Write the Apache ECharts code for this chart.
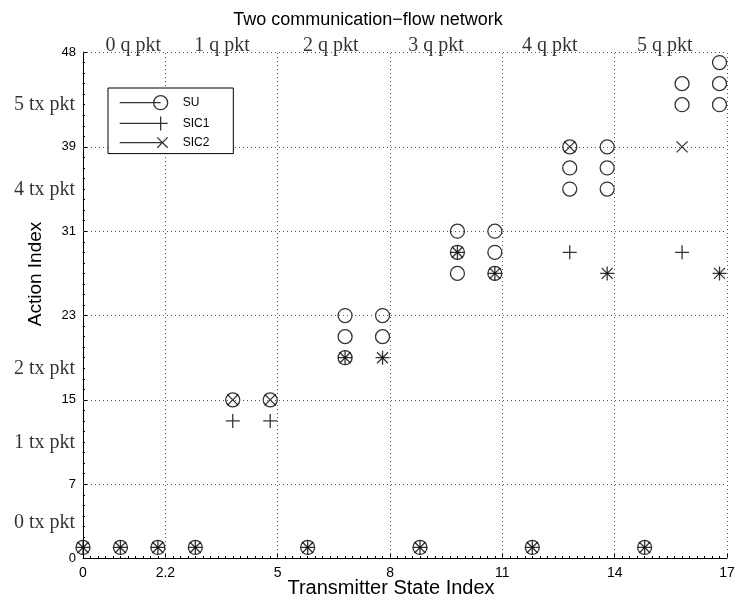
<!DOCTYPE html>
<html>
<head>
<meta charset="utf-8">
<script src="https://cdn.jsdelivr.net/npm/echarts@6/dist/echarts.min.js"></script>
<style>
html,body{margin:0;padding:0;background:#fff;}
#chart{width:736px;height:601px;}
</style>
</head>
<body>
<div id="chart"></div>
<script>
// ---- data ----
const xTickValues = [0, 2.2, 5.2, 8.2, 11.2, 14.2, 17.2];
const xTickLabels = ['0', '2.2', '5', '8', '11', '14', '17'];
const yTickValues = [0, 7, 15, 23, 31, 39, 48];
const xGridValues = [2.2, 5.2, 8.2, 11.2, 14.2, 17.2];
const yGridValues = [7, 15, 23, 31, 39, 48];

const suPoints = [
  [0, 1], [1, 1], [2, 1], [3, 1], [4, 15], [5, 15], [6, 1],
  [7, 23], [7, 21], [7, 19], [8, 23], [8, 21], [9, 1],
  [10, 31], [10, 29], [10, 27], [11, 31], [11, 29], [11, 27], [12, 1],
  [13, 39], [13, 37], [13, 35], [14, 39], [14, 37], [14, 35], [15, 1],
  [16, 45], [16, 43], [17, 47], [17, 45], [17, 43]
];
const sic1Points = [
  [0, 1], [1, 1], [2, 1], [3, 1], [4, 13], [5, 13], [6, 1],
  [7, 19], [8, 19], [9, 1], [10, 29], [11, 27], [12, 1],
  [13, 29], [14, 27], [15, 1], [16, 29], [17, 27]
];
const sic2Points = [
  [0, 1], [1, 1], [2, 1], [3, 1], [4, 15], [5, 15], [6, 1],
  [7, 19], [8, 19], [9, 1], [10, 29], [11, 27], [12, 1],
  [13, 39], [14, 27], [15, 1], [16, 39], [17, 27]
];

const qLabels = ['0 q pkt', '1 q pkt', '2 q pkt', '3 q pkt', '4 q pkt', '5 q pkt'];
const qLabelX = [1.34, 3.71, 6.62, 9.43, 12.47, 15.54];
const qLabelY = 48.6;
const txLabels = ['0 tx pkt', '1 tx pkt', '2 tx pkt', '4 tx pkt', '5 tx pkt'];
const txLabelY = [3.3, 10.9, 18, 34.9, 43];

// ---- chart ----
const SANS = 'Liberation Sans, Arial, Helvetica, sans-serif';
const SERIF = 'Liberation Serif, Times New Roman, serif';
const chart = echarts.init(document.getElementById('chart'), null, {renderer: 'canvas'});

function xLabelFor(v) {
  let best = 0;
  for (let i = 1; i < xTickValues.length; i++) {
    if (Math.abs(xTickValues[i] - v) < Math.abs(xTickValues[best] - v)) best = i;
  }
  return xTickLabels[best];
}

const plusPath = 'path://M-7,0L7,0M0,-7L0,7';
const crossPath = 'path://M-5,-5L5,5M-5,5L5,-5';
const legendSU = 'path://M0,7L41,7M48,7A7,7,0,1,1,34,7A7,7,0,1,1,48,7';
const legendPlus = 'path://M0,7L48,7M41,0L41,14';
const legendCross = 'path://M0,7L41,7M36,2L46,12M36,12L46,2';

const markerStyle = {color: 'rgba(0,0,0,0)', borderColor: '#000', borderWidth: 1.3};

const option = {
  animation: false,
  backgroundColor: '#fff',
  title: {
    text: 'Two communication\u2212flow network',
    left: 'center', top: 6,
    textStyle: {fontFamily: SANS, fontSize: 18, fontWeight: 'normal', color: '#000'}
  },
  grid: {left: 83, right: 9, top: 52, bottom: 43, containLabel: false, outerBoundsMode: 'none'},
  legend: {
    orient: 'vertical', left: 108, top: 88,
    padding: [7, 24, 5, 11], itemGap: 5.5, itemWidth: 48, itemHeight: 14,
    backgroundColor: '#fff', borderColor: '#000', borderWidth: 1, borderRadius: 0,
    selectedMode: false,
    itemStyle: {borderWidth: 1.3, borderColor: '#000', color: 'rgba(0,0,0,0)'},
    textStyle: {fontFamily: SANS, fontSize: 12, color: '#000', padding: [0, 0, 0, 10]},
    data: [
      {name: 'SU', icon: legendSU},
      {name: 'SIC1', icon: legendPlus},
      {name: 'SIC2', icon: legendCross}
    ],
    z: 10
  },
  xAxis: [
    {
      type: 'value', min: 0, max: 17.2, interval: 0.2, position: 'bottom',
      axisLine: {show: true, lineStyle: {color: '#000', width: 1}},
      axisTick: {show: true, inside: true, length: 2, lineStyle: {color: '#000', width: 1}},
      axisLabel: {show: false}, splitLine: {show: false}
    },
    {
      type: 'value', min: 0, max: 17.2, position: 'bottom',
      axisLine: {show: false},
      axisTick: {show: true, inside: true, length: 5, customValues: xTickValues, lineStyle: {color: '#000', width: 1}},
      axisLabel: {show: true, customValues: xTickValues, formatter: xLabelFor, margin: 8,
        fontFamily: SANS, fontSize: 14, color: '#000'},
      splitLine: {show: false}
    }
  ],
  yAxis: [
    {
      type: 'value', min: 0, max: 48, interval: 1, position: 'left',
      axisLine: {show: true, lineStyle: {color: '#000', width: 1}},
      axisTick: {show: true, inside: true, length: 2, lineStyle: {color: '#000', width: 1}},
      axisLabel: {show: false}, splitLine: {show: false}
    },
    {
      type: 'value', min: 0, max: 48, position: 'left',
      axisLine: {show: false},
      axisTick: {show: true, inside: true, length: 5, customValues: yTickValues, lineStyle: {color: '#000', width: 1}},
      axisLabel: {show: true, customValues: yTickValues, margin: 7,
        fontFamily: SANS, fontSize: 13, color: '#000'},
      splitLine: {show: false}
    }
  ],
  graphic: [
    {type: 'text', x: 36, y: 274, rotation: Math.PI / 2, silent: true,
      style: {text: 'Action Index', fontFamily: SANS, fontSize: 19, fill: '#000', align: 'center', verticalAlign: 'middle'}},
    {type: 'text', x: 391, y: 588, silent: true,
      style: {text: 'Transmitter State Index', fontFamily: SANS, fontSize: 20, fill: '#000', align: 'center', verticalAlign: 'middle'}}
  ],
  series: [
    {
      name: 'grid', type: 'line', data: [], silent: true, xAxisIndex: 0, yAxisIndex: 0, z: 1,
      markLine: {
        silent: true, symbol: ['none', 'none'], animation: false,
        label: {show: false},
        lineStyle: {color: '#555', type: [1, 3], width: 1},
        emphasis: {disabled: true},
        data: xGridValues.map(v => ({xAxis: v})).concat(yGridValues.map(v => ({yAxis: v})))
      }
    },
    {
      name: 'SU', type: 'scatter', data: suPoints, symbol: 'circle', symbolSize: 14,
      itemStyle: markerStyle, z: 3, silent: true
    },
    {
      name: 'SIC1', type: 'scatter', data: sic1Points, symbol: plusPath, symbolSize: 14,
      itemStyle: markerStyle, z: 4, silent: true
    },
    {
      name: 'SIC2', type: 'scatter', data: sic2Points, symbol: crossPath, symbolSize: 11,
      itemStyle: markerStyle, z: 4, silent: true
    },
    {
      name: 'qlabels', type: 'scatter', symbolSize: 0, clip: false, silent: true, z: 5,
      data: qLabels.map((t, i) => ({name: t, value: [qLabelX[i], qLabelY]})),
      label: {show: true, position: 'inside', formatter: '{b}', fontFamily: SERIF, fontSize: 20, color: '#000'}
    },
    {
      name: 'txlabels', type: 'scatter', symbolSize: 0, clip: false, silent: true, z: 5,
      data: txLabels.map((t, i) => ({name: t, value: [0, txLabelY[i]]})),
      label: {show: true, position: 'left', distance: 8, formatter: '{b}', fontFamily: SERIF, fontSize: 20, color: '#000'}
    }
  ]
};
chart.setOption(option);
</script>
</body>
</html>
